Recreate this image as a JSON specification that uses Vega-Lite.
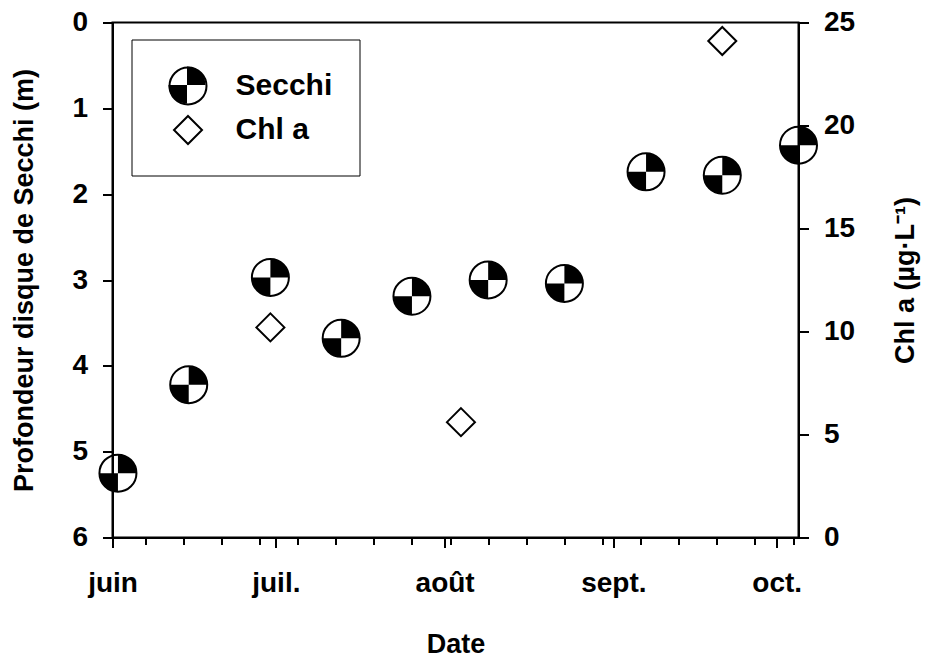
{
  "$schema": "https://vega.github.io/schema/vega-lite/v6.json",
  "width": 686,
  "height": 515,
  "autosize": {"type": "none"},
  "padding": {"left": 112.5, "top": 22.5, "right": 129.5, "bottom": 120.5},
  "background": "white",
  "data": {
    "values": [
      {"date": "2015-06-02T00:00:00", "series": "Secchi", "value": 5.25},
      {"date": "2015-06-15T00:00:00", "series": "Secchi", "value": 4.22},
      {"date": "2015-06-30T00:00:00", "series": "Secchi", "value": 2.97},
      {"date": "2015-07-13T00:00:00", "series": "Secchi", "value": 3.68},
      {"date": "2015-07-26T00:00:00", "series": "Secchi", "value": 3.19},
      {"date": "2015-08-09T00:00:00", "series": "Secchi", "value": 3.0},
      {"date": "2015-08-23T00:00:00", "series": "Secchi", "value": 3.04},
      {"date": "2015-09-07T00:00:00", "series": "Secchi", "value": 1.74},
      {"date": "2015-09-21T00:00:00", "series": "Secchi", "value": 1.78},
      {"date": "2015-10-05T00:00:00", "series": "Secchi", "value": 1.43},
      {"date": "2015-06-30T00:00:00", "series": "Chl a", "value": 10.2},
      {"date": "2015-08-04T00:00:00", "series": "Chl a", "value": 5.6},
      {"date": "2015-09-21T00:00:00", "series": "Chl a", "value": 24.1}
    ]
  },
  "encoding": {
    "x": {
      "field": "date",
      "type": "temporal",
      "scale": {
        "domain": [{"year": 2015, "month": 6, "date": 1}, {"year": 2015, "month": 10, "date": 5}],
        "nice": false
      },
      "axis": {
        "orient": "bottom",
        "title": "Date",
        "values": [
          {"year": 2015, "month": 6, "date": 1},
          {"year": 2015, "month": 6, "date": 7},
          {"year": 2015, "month": 6, "date": 14},
          {"year": 2015, "month": 6, "date": 21},
          {"year": 2015, "month": 6, "date": 28},
          {"year": 2015, "month": 7, "date": 1},
          {"year": 2015, "month": 7, "date": 5},
          {"year": 2015, "month": 7, "date": 12},
          {"year": 2015, "month": 7, "date": 19},
          {"year": 2015, "month": 7, "date": 26},
          {"year": 2015, "month": 8, "date": 1},
          {"year": 2015, "month": 8, "date": 2},
          {"year": 2015, "month": 8, "date": 9},
          {"year": 2015, "month": 8, "date": 16},
          {"year": 2015, "month": 8, "date": 23},
          {"year": 2015, "month": 8, "date": 30},
          {"year": 2015, "month": 9, "date": 1},
          {"year": 2015, "month": 9, "date": 6},
          {"year": 2015, "month": 9, "date": 13},
          {"year": 2015, "month": 9, "date": 20},
          {"year": 2015, "month": 9, "date": 27},
          {"year": 2015, "month": 10, "date": 1},
          {"year": 2015, "month": 10, "date": 4}
        ],
        "labelExpr": "date(datum.value) === 1 ? ['janv.','févr.','mars','avr.','mai','juin','juil.','août','sept.','oct.','nov.','déc.'][month(datum.value)] : ''",
        "tickSize": {"condition": {"test": "date(datum.value) === 1", "value": 10}, "value": 7},
        "labelPadding": 22,
        "titlePadding": 34,
        "zindex": 1
      }
    }
  },
  "layer": [
    {
      "transform": [{"filter": {"field": "series", "equal": "Secchi"}}],
      "mark": {"type": "point", "filled": false, "color": "black", "strokeWidth": 2, "size": 1369, "opacity": 1},
      "encoding": {
        "y": {
          "field": "value",
          "type": "quantitative",
          "scale": {"domain": [0, 6], "reverse": true, "nice": false},
          "axis": {
            "orient": "left",
            "title": "Profondeur disque de Secchi (m)",
            "values": [0, 1, 2, 3, 4, 5, 6],
            "tickSize": 10,
            "labelPadding": 15,
            "titlePadding": 33,
            "zindex": 1
          }
        },
        "shape": {
          "field": "series",
          "type": "nominal",
          "scale": {"domain": ["Secchi", "Chl a"], "range": ["circle", "M0,-0.757L0.757,0L0,0.757L-0.757,0Z"]},
          "legend": {
            "orient": "none",
            "legendX": 19,
            "legendY": 17,
            "title": null,
            "padding": 27,
            "rowPadding": 2,
            "symbolOffset": 10,
            "symbolSize": 1369,
            "symbolStrokeWidth": 2,
            "symbolStrokeColor": "black",
            "symbolOpacity": 1,
            "labelFont": "Liberation Sans",
            "labelFontWeight": "bold",
            "labelFontSize": 30,
            "labelColor": "black",
            "labelOffset": 28,
            "strokeColor": "black",
            "fillColor": "white",
            "zindex": 0,
            "encode": {
              "legend": {"update": {"strokeWidth": {"value": 2}}}
            }
          }
        }
      }
    },
    {
      "transform": [{"filter": {"field": "series", "equal": "Secchi"}}],
      "mark": {
        "type": "point",
        "shape": "M0,0L0,-1A1,1,0,0,1,1,0ZM0,0L0,1A1,1,0,0,1,-1,0Z",
        "filled": true,
        "size": 1369,
        "strokeWidth": 0,
        "opacity": 1
      },
      "encoding": {
        "y": {
          "field": "value",
          "type": "quantitative",
          "scale": {"domain": [0, 6], "reverse": true, "nice": false},
          "axis": null
        },
        "fill": {
          "field": "series",
          "type": "nominal",
          "scale": {"domain": ["Secchi"], "range": ["black"]},
          "legend": {
            "orient": "none",
            "legendX": 19,
            "legendY": 17,
            "title": null,
            "padding": 27,
            "rowPadding": 2,
            "symbolOffset": 10,
            "symbolSize": 1369,
            "symbolType": "M0,0L0,-1A1,1,0,0,1,1,0ZM0,0L0,1A1,1,0,0,1,-1,0Z",
            "symbolFillColor": "black",
            "symbolStrokeWidth": 0,
            "symbolOpacity": 1,
            "labelExpr": "''",
            "labelFontSize": 30,
            "labelOffset": 28,
            "zindex": 1
          }
        }
      }
    },
    {
      "transform": [{"filter": {"field": "series", "equal": "Chl a"}}],
      "mark": {"type": "point", "filled": false, "color": "black", "strokeWidth": 2, "size": 1369, "opacity": 1},
      "encoding": {
        "y": {
          "field": "value",
          "type": "quantitative",
          "scale": {"domain": [0, 25], "nice": false},
          "axis": {
            "orient": "right",
            "title": "Chl a (µg·L⁻¹)",
            "values": [0, 5, 10, 15, 20, 25],
            "tickSize": 10,
            "labelPadding": 15,
            "titleAngle": 270,
            "titleBaseline": "top",
            "titlePadding": 38,
            "zindex": 1
          }
        },
        "shape": {"field": "series", "type": "nominal"}
      }
    }
  ],
  "resolve": {"scale": {"y": "independent"}},
  "config": {
    "font": "Liberation Sans",
    "view": {"stroke": "black", "strokeWidth": 2},
    "axis": {
      "grid": false,
      "domainColor": "black",
      "domainWidth": 2,
      "tickColor": "black",
      "tickWidth": 2,
      "labelColor": "black",
      "titleColor": "black",
      "labelFont": "Liberation Sans",
      "titleFont": "Liberation Sans",
      "labelFontWeight": "bold",
      "titleFontWeight": "bold",
      "labelFontSize": 28,
      "titleFontSize": 27,
      "labelFlush": false,
      "labelOverlap": false
    }
  }
}
